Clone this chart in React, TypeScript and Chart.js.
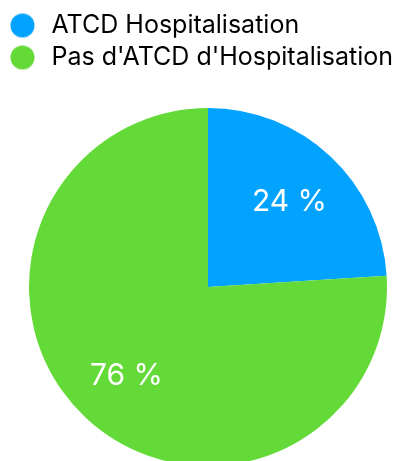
import React, { useEffect, useRef } from "react";
import { Chart, registerables } from "chart.js";

Chart.register(...registerables);

const categories = ["ATCD Hospitalisation", "Pas d'ATCD d'Hospitalisation"];
const percentValues = [24, 76];
const sliceColors = ["#02A3FE", "#63DA38"];

const FONT = "Inter, 'Liberation Sans', sans-serif";

function makeDot(color: string) {
  const c = document.createElement("canvas");
  c.width = 36;
  c.height = 26;
  const g = c.getContext("2d")!;
  g.fillStyle = color;
  g.beginPath();
  g.arc(13.5, 13, 12, 0, Math.PI * 2);
  g.fill();
  return c;
}

const legendSpacer = {
  id: "legendSpacer",
  beforeInit(chart: any) {
    const legend = chart.legend;
    if (!legend) return;
    const orig = legend.fit;
    legend.fit = function () {
      orig.call(this);
      this.height += 28;
    };
  },
};

const sliceLabels = {
  id: "sliceLabels",
  afterDatasetsDraw(chart: any) {
    const ctx = chart.ctx;
    const meta = chart.getDatasetMeta(0);
    const data = chart.data.datasets[0].data as number[];
    ctx.save();
    ctx.fillStyle = "#ffffff";
    ctx.font = `30px ${FONT}`;
    ctx.textAlign = "center";
    ctx.textBaseline = "middle";
    meta.data.forEach((arc: any, i: number) => {
      const p = arc.getProps(["x", "y", "startAngle", "endAngle", "outerRadius"], true);
      const mid = (p.startAngle + p.endAngle) / 2;
      const r = p.outerRadius * 0.665;
      ctx.fillText(`${data[i]} %`, p.x + Math.cos(mid) * r, p.y + 2 + Math.sin(mid) * r);
    });
    ctx.restore();
  },
};

export default function App() {
  const ref = useRef<HTMLCanvasElement | null>(null);
  useEffect(() => {
    if (!ref.current) return;
    const dots = sliceColors.map(makeDot);
    const chart = new Chart(ref.current, {
      type: "pie",
      data: {
        labels: categories,
        datasets: [
          {
            data: percentValues,
            backgroundColor: sliceColors,
            borderWidth: 0,
            hoverOffset: 0,
          },
        ],
      },
      options: {
        responsive: false,
        animation: false,
        devicePixelRatio: 1,
        layout: { padding: { top: 6, left: 0, right: 0, bottom: 0 } },
        plugins: {
          tooltip: { enabled: false },
          legend: {
            position: "top",
            align: "start",
            labels: {
              usePointStyle: true,
              boxWidth: 24,
              boxHeight: 17,
              padding: 7,
              color: "#000000",
              font: { size: 25, family: FONT },
              generateLabels: (ch: any) =>
                ch.data.labels.map((l: string, i: number) => ({
                  text: l,
                  fillStyle: sliceColors[i],
                  strokeStyle: sliceColors[i],
                  lineWidth: 0,
                  pointStyle: dots[i],
                  fontColor: "#000000",
                  hidden: false,
                  index: i,
                })),
            },
          },
        },
      },
      plugins: [legendSpacer, sliceLabels],
    });
    return () => chart.destroy();
  }, []);
  return (
    <div
      style={{
        position: "fixed",
        left: 0,
        top: 0,
        width: 404,
        height: 461,
        overflow: "hidden",
        background: "#fff",
      }}
    >
      <canvas
        ref={ref}
        width={400}
        height={466}
        style={{ position: "absolute", left: 8, top: 0, width: 400, height: 466 }}
      />
    </div>
  );
}
